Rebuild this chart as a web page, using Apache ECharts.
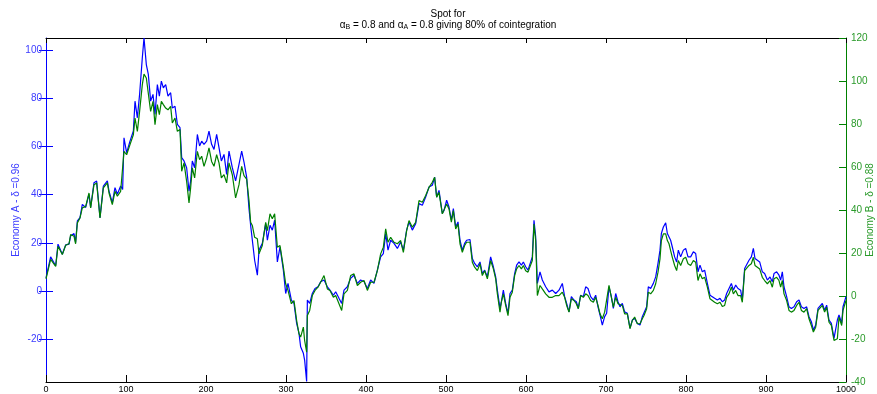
<!DOCTYPE html>
<html>
<head>
<meta charset="utf-8">
<script src="https://cdn.jsdelivr.net/npm/echarts@6/dist/echarts.min.js"></script>
<style>
html,body{margin:0;padding:0;background:#fff;}
#chart{width:877px;height:394px;}
</style>
</head>
<body>
<div id="chart"></div>
<script>
// time steps (x)
const steps = [
0,1.7,5.8,12.1,15,20.4,24.6,28.75,30.8,35,37,39.2,42.5,45.4,49.6,53.75,55.8,60,63.3,67.5,71.7,76.7,78.75,82.9,86.25,89.2,93.3,95.8,97.5,100.8,105,109.2,111.25,114.2,117,120.4,122.5,125.4,127.9,130.8,133.75,136.25,139.2,141.7,144.2,146.7,149.6,152.5,155.8,157.9,161.25,164.2,167.5,169.6,172.5,175.8,178.75,180.8,182.9,185.8,189.2,192,194.6,197.5,200.8,203.75,207,210,213.3,216.25,219.2,222.5,225.8,228.75,232.9,237,241.25,244.6,
247.5,250.8,253.75,255.8,257.9,260.8,264.2,266.25,270.4,274.6,276.7,280,282.9,285.8,289.2,292.5,296.7,299.6,302.5,306.7,310,313.3,316.25,318.3,321.7,323.3,325.8,326.7,329.6,332.9,336.25,340,343.3,347.5,351.7,355,359.2,362.1,366.25,369.6,372.5,376.7,380.8,385,389.2,393.3,397.5,401.7,405.8,410,414.2,418.3,421.7,424.6,427.5,430.8,435,439.2,443.3,446.7,450.8,453.75,457.9,462.1,466.25,470.4,474.6,478.75,482.9,485.8,488.3,491.25,495.4,
497.5,500.8,503.75,506.7,509.2,512.1,515,517.5,520.4,523.3,525.8,530,532.9,535.8,539.2,542.5,545.4,548.3,551.7,555.8,559.2,562.1,564.2,567.5,569.2,571.7,574.6,577.5,580,582.9,585.8,588.3,591.25,594.2,596.7,599.6,602.5,605,607.9,610,612.1,614.2,617.5,620.4,624.6,628.75,632.9,637.1,641.25,645.4,648.3,650.8,653.75,656.7,660,662.9,665.4,668.3,671.7,674.6,677.5,680.8,684.2,687.1,690,692.5,695.4,698.3,700.8,703.75,706.7,709.2,712.1,715,717.5,720.4,723.3,726.7,730,732.9,735.8,739.2,742.5,745.4,
747.5,750.8,752.9,755.8,759.2,762.1,765,767.5,769.2,771.7,774.6,776.7,778.75,780.8,782.9,785.8,788.3,790.4,793.3,796.7,799.6,802.5,805.8,809.2,812.1,815,817.5,820.4,823.3,826.7,830,832.9,835.8,839.2,842.5,845.4,848.3,850.8,853.75,856.7,859.2,862.1,865,868.3,870.4,873.3,875.8,878.75,881.7,884.2,886.25,889.2,892.1,895.4,898.3,901.7,905,907.9,910,913.3,916.25,918.3,920.4,922.5,925.8,928.75,931.7,935,938.3,941.25,944.2,947.5,950.8,953.75,956.7,959.2,962.1,965,967.5,970.4,973.3,975.8,978.75,981.7,985,987.1,989.2,991.25,993.3,994.6,996.25,1000
];
// Economy A (left axis, blue)
const economyA = [
5.5,6.3,14.2,10.5,19.5,15.3,19.2,19.5,22.9,23.9,20.2,29.1,30.5,36,34.7,40.2,34.7,45,45.7,30.5,43.6,45.7,41.5,36.7,42.9,40.2,43.6,42.2,63.6,57.4,62.2,66.4,78.8,71.9,81.6,96.8,105,94,89.9,78.8,81.6,73.3,85.7,80.9,87.1,84.3,85.7,80.9,82.3,76,76.7,69.2,67.8,55.4,54,51.2,41.5,45.7,54,51.2,65,60.2,62.2,60.9,62.2,66.4,60.9,58.8,65,59.5,54,56.7,48.4,58.1,51.2,45.7,52.6,58.1,
53.5,47.3,34.2,27.3,28,12.8,6.6,17,19.8,28,21.1,27.3,25.3,29.4,12.1,18.3,8.7,-1,3.2,-3.7,-5.1,-13.4,-17.5,-23.1,-25.8,-28.6,-37.5,-3.7,-5.1,-1,1.1,1.8,3.9,4.6,1.8,0.4,-1.7,-0.3,-3,-5.1,0.4,1.8,5.3,6.6,3.2,4.6,4,1.1,4.6,3.2,8.7,14.2,15.6,23.9,17,21.1,19.8,17.7,20.4,17,25.3,28.7,25.3,28,36.3,35.6,39,43.2,43.9,47.3,39,41.8,32.2,
33.5,37.7,34.9,29.4,34.2,26.6,28.7,21.1,17,19.8,21.1,21.4,13.5,11.5,10.1,12.1,7.3,8.7,5.9,14.2,10.1,5.9,0.4,-7.2,-4.4,0.4,-5.1,-9.2,-1,0.4,7.3,10.8,12.1,10.8,12.1,10.1,8.7,9.4,14.2,29.4,22.5,3.2,8,4.6,1.8,-0.3,0.4,-1,0.4,3.2,-2.3,-5.1,-8.6,-2.3,-3.7,-4.4,-7.2,-1.7,-2.3,1.8,1.1,-2.3,-3.7,-1.7,-6.5,-9.9,-14.1,-10.6,-9.2,1.8,-2.3,-7.2,-1,-4.4,-6.5,-5.1,-8.6,-9.2,-15.4,-12,-11.3,-13.4,-14.1,-10.6,
-9.9,-6.5,1.8,1.1,3.2,5.9,11.5,17,23.9,26.6,28.3,23.9,24.6,21.1,18.3,14.2,12.1,17,14.2,17,17.7,14.2,14.2,16.3,15.6,8,10.8,8,8.7,3.2,-1.7,-2.3,-3,-3.7,-3,-4.4,-3.7,-1,1.1,3.2,0.4,2.5,1.1,0.4,-3.7,9.4,10.1,12.8,14.2,17.7,13.5,12.8,12.1,8,7.3,4.6,5.9,3.9,7.3,8,6.6,4.6,8,1.8,-2.3,-6.5,-7.2,-6.5,-4.4,-3.7,-6.5,-7.2,-6.5,-10.6,-12.7,-16.1,-14.1,-7.2,-7.9,-5.1,-7.9,-5.8,-12,-13.4,-19.6,-20.3,-12,-9.9,-9.2,-13.4,-6.5,-2.3
];
// Economy B (right axis, green)
const economyB = [
8,8.5,17,13.8,23.1,19.3,23.6,24.3,28.6,27.8,24.3,34,36.3,41,41.7,47.9,41,51.8,52.6,36.3,50.3,52.6,47.9,42.5,48.7,46.4,48.7,48.7,67.3,65.7,70.4,75,82.8,76.6,85.9,98.3,103.2,101.4,102.1,85.9,90.5,79.7,89,84.3,90.5,89,87.4,86.6,88.2,80.5,82.8,76.6,77.4,58,61.9,53.3,43.3,50.3,59.6,54.9,67.3,63.4,65,60.3,64.2,68.9,62.6,60.3,65.7,61.9,54.9,56.4,52.6,61.9,56.4,45.6,51.8,60.3,
56,54.4,44.4,34.3,32.8,27.3,26.6,19.6,23.5,34.3,30.4,38.2,35.9,38.2,22.7,23.5,13.4,5.7,2.6,-3.6,-2.1,-11.4,-17.6,-19.1,-14.5,-20.7,-26.1,-9.1,-6.7,0.2,2.6,4.1,6.4,9.5,3.3,2.6,-0.6,0.2,-3.6,-6.7,1,2.6,9.5,10.3,4.9,6.4,7.2,2.6,6.4,6.4,11.8,19.6,22.7,31.2,25,27.3,25,24.3,25.8,20.3,30.4,35.1,32,34.3,44.4,43.6,46.7,50.5,52.9,55.2,45.9,48.2,38.2,
38.2,42.8,40.5,34.3,39.7,31.2,33.5,24.3,20.3,23.5,25,25,15.7,13.4,11.8,15,9.5,11.8,8,16.5,12.6,8,1,-7.5,-2.9,1,-4.4,-9.1,-0.6,1.8,9.5,12.6,14.2,12.6,14.2,11.8,11.1,11.8,16.5,33.5,25.8,0.2,4.9,3.3,1,-0.6,-0.6,0.2,0.2,1.8,-0.6,-4.4,-7.5,-1.3,-2.1,-3.6,-5.9,0.2,-0.6,1,0.2,-2.1,-2.9,-0.6,-4.4,-8.3,-10.6,-7.5,-6.7,4.9,-0.6,-5.2,-0.6,-3.6,-4.4,-4.4,-8.3,-8.3,-15.2,-11.4,-9.8,-12.9,-12.9,-10.6,
-9.1,-5.9,1.8,1,2.6,5.7,11.1,17.3,25.8,28.9,28.9,25.8,24.3,21.1,18,14.2,11.8,16.5,14.2,17.3,18,15,14.2,16.5,15.7,7.2,10.3,8,8.7,4.1,-1.3,-2.1,-2.9,-3.6,-2.9,-4.9,-4.4,-0.6,1,4.1,1,2.6,0.2,0.2,-2.9,11.8,11.1,14.2,15,18,14.2,13.4,12.6,8.7,7.2,5.7,7.2,4.1,8,8.7,7.2,4.1,7.2,1,-2.1,-6.7,-7.5,-6.7,-4.4,-2.9,-6.7,-7.5,-5.9,-10.6,-13.7,-16.8,-14.5,-6.7,-7.5,-4.4,-7.5,-5.2,-12.2,-13.7,-20.7,-20.7,-19.9,-9.8,-9.1,-13.7,-6.7,-2.1
];
const xTicks = [0,100,200,300,400,500,600,700,800,900,1000];
const leftTicks = [-20,0,20,40,60,80,100];
const rightTicks = [-40,-20,0,20,40,60,80,100,120];
const leftName = 'Economy A - \u03b4 =0.96';
const rightName = 'Economy B - \u03b4 =0.88';

const FONT = '"Liberation Sans", Arial, Helvetica, sans-serif';
const BLUE = '#0000ff', GREEN = '#008000';
const chart = echarts.init(document.getElementById('chart'), null, {renderer:'canvas'});
chart.setOption({
  animation: false,
  backgroundColor: '#fff',
  title: {
    left: 443, top: 4, textAlign: 'center',
    text: 'Spot for\n{g|\u03b1}{s|B}{t| = 0.8 and }{g|\u03b1}{s|A}{t| = 0.8 giving 80% of cointegration}',
    textStyle: {
      fontFamily: FONT, fontSize: 10, fontWeight: 'normal', color: '#000', lineHeight: 11,
      rich: {
        g: {fontFamily: FONT, fontSize: 10, color: '#000', verticalAlign: 'top', lineHeight: 11},
        t: {fontFamily: FONT, fontSize: 10, color: '#000', verticalAlign: 'top', lineHeight: 11},
        s: {fontFamily: FONT, fontSize: 7, color: '#000', verticalAlign: 'bottom', lineHeight: 7, padding: [8,0,0,0]}
      }
    }
  },
  grid: {left: 46, right: 31, top: 38, bottom: 12, containLabel: false, outerBoundsMode: 'none'},
  xAxis: [{
    type: 'value', min: 0, max: 1000, position: 'bottom',
    axisLine: {show: true, onZero: false, lineStyle: {color: '#000', width: 1}},
    axisTick: {show: true, inside: true, length: 7, lineStyle: {color: '#000'}, customValues: xTicks},
    axisLabel: {show: true, margin: 3, fontSize: 9, fontFamily: FONT, color: '#000', customValues: xTicks,
      formatter: v => String(v)},
    splitLine: {show: false}
  }, {
    type: 'value', min: 0, max: 1000, position: 'top',
    axisLine: {show: true, onZero: false, lineStyle: {color: '#000', width: 1}},
    axisTick: {show: true, inside: true, length: 5, lineStyle: {color: '#000'}, customValues: xTicks},
    axisLabel: {show: false},
    splitLine: {show: false}
  }],
  yAxis: [{
    type: 'value', min: -37.7, max: 105, position: 'left',
    name: leftName, nameLocation: 'middle', nameGap: 25, nameRotate: 90, nameMoveOverlap: false,
    nameTextStyle: {color: '#3b3bff', fontSize: 10, fontFamily: FONT},
    axisLine: {show: true, onZero: false, lineStyle: {color: BLUE, width: 1}},
    axisTick: {show: true, inside: true, length: 7, lineStyle: {color: BLUE}, customValues: leftTicks},
    axisLabel: {show: true, margin: 4, fontSize: 10, fontFamily: FONT, color: '#3b3bff', customValues: leftTicks},
    splitLine: {show: false}
  }, {
    type: 'value', min: -40, max: 120, interval: 20, position: 'right',
    name: rightName, nameLocation: 'middle', nameGap: 19, nameRotate: 90, nameMoveOverlap: false,
    nameTextStyle: {color: '#2a9a2a', fontSize: 10, fontFamily: FONT},
    axisLine: {show: true, onZero: false, lineStyle: {color: GREEN, width: 1}},
    axisTick: {show: true, inside: true, length: 7, lineStyle: {color: GREEN}, customValues: rightTicks},
    axisLabel: {show: true, margin: 5, fontSize: 10, fontFamily: FONT, color: '#2a9a2a', customValues: rightTicks},
    splitLine: {show: false}
  }, {
    type: 'value', min: -37.7, max: 105, position: 'right',
    axisLine: {show: false},
    axisTick: {show: true, inside: true, length: 7, lineStyle: {color: BLUE}, customValues: leftTicks},
    axisLabel: {show: false},
    splitLine: {show: false}
  }],
  series: [{
    type: 'line', name: 'Economy A', xAxisIndex: 0, yAxisIndex: 0,
    data: steps.map((t, i) => [t, economyA[i]]),
    showSymbol: false, symbol: 'none', z: 2,
    lineStyle: {color: BLUE, width: 1.2}, itemStyle: {color: BLUE}
  }, {
    type: 'line', name: 'Economy B', xAxisIndex: 0, yAxisIndex: 1,
    data: steps.map((t, i) => [t, economyB[i]]),
    showSymbol: false, symbol: 'none', z: 3,
    lineStyle: {color: GREEN, width: 1.2}, itemStyle: {color: GREEN}
  }]
});
</script>
</body>
</html>
